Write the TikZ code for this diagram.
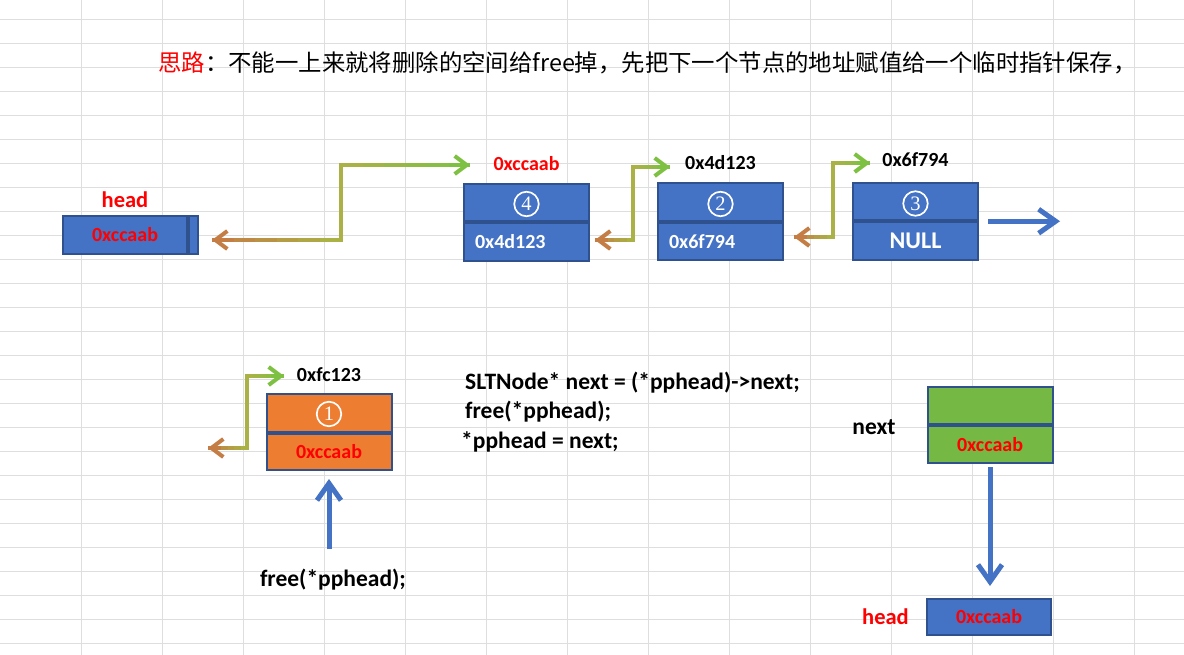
\documentclass[tikz,border=0pt]{standalone}
\usepackage{fontspec}
\setmainfont{Carlito}
\newfontfamily\cjk{Noto Sans CJK SC}
\newfontfamily\digitserif{Liberation Serif}
\usetikzlibrary{positioning, calc, arrows.meta}
\definecolor{cellBlue}{HTML}{4472C4}
\definecolor{cellEdge}{HTML}{2F528F}
\definecolor{cellOrange}{HTML}{ED7D31}
\definecolor{cellGreen}{HTML}{75B843}
\definecolor{linkBrown}{HTML}{C47E45}
\definecolor{linkOlive}{HTML}{AAB145}
\definecolor{linkGreen}{HTML}{7EC142}
\definecolor{sheetGrid}{HTML}{DEDEDE}
\newcommand{\addrfont}{\fontsize{20}{24}\selectfont\bfseries}
\newcommand{\tagfont}{\fontsize{22.5}{27}\selectfont\bfseries}
\newcommand{\codefont}{\fontsize{23.5}{28}\selectfont\bfseries}
\newcommand{\bigaddrfont}{\fontsize{24}{29}\selectfont\bfseries}
\newcommand{\ringfont}{\digitserif\fontsize{20.5}{24}\selectfont}
\newcommand{\elbowlink}[3]{%
  \coordinate (lo) at (#2 |- #1);
  \coordinate (hi) at (#2 |- #3);
  \foreach \i in {0,...,5}{
    \pgfmathsetmacro{\fa}{\i/6}
    \pgfmathsetmacro{\fb}{(\i+1)/6}
    \pgfmathtruncatemacro{\mixa}{\i*20}
    \draw[linkline, draw=linkOlive!\mixa!linkBrown] ($(#1)!\fa!(lo)$) -- ($(#1)!\fb!(lo)$);
    \draw[linkline, draw=linkGreen!\mixa!linkOlive] ($(hi)!\fa!(#3)$) -- ($(hi)!\fb!(#3)$);
  }
  \draw[linkline, linkOlive, line cap=rect] (lo) -- (hi);
  \draw[linkline, linkBrown, {Straight Barb[length=12pt,width=18pt]}-] (#1) -- ++(13,0);
  \draw[linkline, linkGreen, -{Straight Barb[length=12pt,width=18pt]}] ($(#3)+(-13,0)$) -- (#3);
}

\begin{document}
\begin{tikzpicture}[x=1pt, y=-1pt,
	cell/.style={
		draw=cellEdge,
		fill=cellBlue,
		line width=2pt,
		minimum width=125pt,
		minimum height=37.5pt,
		inner sep=0pt,
		text=white,
		font=\addrfont,
	},
	addrcell/.style={cell, inner xsep=11pt, text width=103pt, align=left},
	ring/.style={circle, draw=white, line width=1.7pt, minimum size=24.5pt, inner sep=0pt, text=white, font=\ringfont},
	addr/.style={inner sep=0pt, font=\addrfont},
	tag/.style={inner sep=0pt, text=red, font=\tagfont},
	code/.style={inner sep=0pt, anchor=west, font=\codefont},
	linkline/.style={line width=4pt},
	bluearrow/.style={draw=cellBlue, line width=5pt, -{Straight Barb[length=17pt,width=24pt]}},
	gridline/.style={draw=sheetGrid, line width=1pt}]
	\useasboundingbox (0,0) rectangle (1184,655);
	\fill[white] (0,0) rectangle (1184,655);
	\foreach \gx in {1,...,14} \draw[gridline] (\gx*81,0) -- (\gx*81,655);
	\foreach \gy in {0,...,26} \draw[gridline] (0,19.5+\gy*24) -- (1184,19.5+\gy*24);
	
	\node[anchor=west, inner sep=0pt] (idea) at (158,63) {\cjk\fontsize{23.4}{28}\selectfont\textcolor{red}{思路}：不能一上来就将删除的空间给free掉，先把下一个节点的地址赋值给一个临时指针保存，};
	
	\node[cell, minimum width=124pt, minimum height=38pt, text=red] (headptr) at (125,235) {0xccaab};
	\node[cell, minimum width=9pt, minimum height=38pt, right=0pt of headptr] (headtail) {};
	\node[tag, above=7pt of headptr] (headtag) {head};
	
	\node[cell] (n4top) at (526.5,202.5) {};
	\node[ring] (n4num) at ([yshift=-1.5pt]n4top.center) {4};
	\node[addrcell, below=0pt of n4top] (n4bot) {0x4d123};
	\node[addr, above=12pt of n4top, text=red] (n4tag) {0xccaab};
	
	\node[cell] (n2top) at (720.5,202) {};
	\node[ring] (n2num) at ([yshift=-2pt]n2top.center) {2};
	\node[addrcell, below=0pt of n2top] (n2bot) {0x6f794};
	\node[addr, above=12pt of n2top] (n2tag) {0x4d123};
	
	\node[cell] (n3top) at (915.5,201.5) {};
	\node[ring] (n3num) at ([yshift=-2pt]n3top.center) {3};
	\node[cell, below=0pt of n3top, font=\bigaddrfont] (n3bot) {NULL};
	\node[addr, above=15pt of n3top] (n3tag) {0x6f794};
	
	\node[cell, fill=cellOrange, minimum height=38pt] (n1top) at (329,413) {};
	\node[ring] (n1num) at ([yshift=-1pt]n1top.center) {1};
	\node[cell, fill=cellOrange, minimum height=36pt, text=red, below=0pt of n1top] (n1bot) {0xccaab};
	\node[addr, above=11pt of n1top] (n1tag) {0xfc123};
	
	\node[code] (code1) at (465,383) {SLTNode* next = (*pphead)->next;};
	\node[code] (code2) at (465,412) {free(*pphead);};
	\node[code] (code3) at (461,442) {*pphead = next;};
	\node[code, anchor=center] (freecall) at (333,580) {free(*pphead);};
	
	\node[cell, fill=cellGreen, minimum height=37pt] (nexttop) at (990,405.5) {};
	\node[cell, fill=cellGreen, minimum height=37pt, text=red, below=0pt of nexttop] (nextbot) {0xccaab};
	\node[code, anchor=center] (nexttag) at (874,427) {next};
	
	\node[cell, minimum width=124pt, minimum height=36pt, text=red] (headnew) at (989,617) {0xccaab};
	\node[tag, left=17pt of headnew] (headnewtag) {head};
	
	\coordinate (fromhead) at (212,240);
	\coordinate (bend1) at (341,0);
	\coordinate (toN4) at (470,165);
	\elbowlink{fromhead}{bend1}{toN4}
	\coordinate (fromN4) at (595,240);
	\coordinate (bend2) at (633,0);
	\coordinate (toN2) at (670,167);
	\elbowlink{fromN4}{bend2}{toN2}
	\coordinate (fromN2) at (794,237);
	\coordinate (bend3) at (833,0);
	\coordinate (toN3) at (870,163);
	\elbowlink{fromN2}{bend3}{toN3}
	\coordinate (fromN1) at (208,448);
	\coordinate (bend4) at (247,0);
	\coordinate (toN1) at (284,376);
	\elbowlink{fromN1}{bend4}{toN1}
	
	\coordinate (nilend) at (1060,221);
	\draw[bluearrow, shorten <=9pt] (n3bot.north east) -- (n3bot.north east -| nilend);
	\draw[bluearrow, shorten <=20pt, shorten >=8pt] (n1bot.south |- freecall.north) -- (n1bot.south);
	\draw[bluearrow, shorten <=3pt, shorten >=12pt] (nextbot.south) -- (nextbot.south |- headnew.north);
\end{tikzpicture}
\end{document}
